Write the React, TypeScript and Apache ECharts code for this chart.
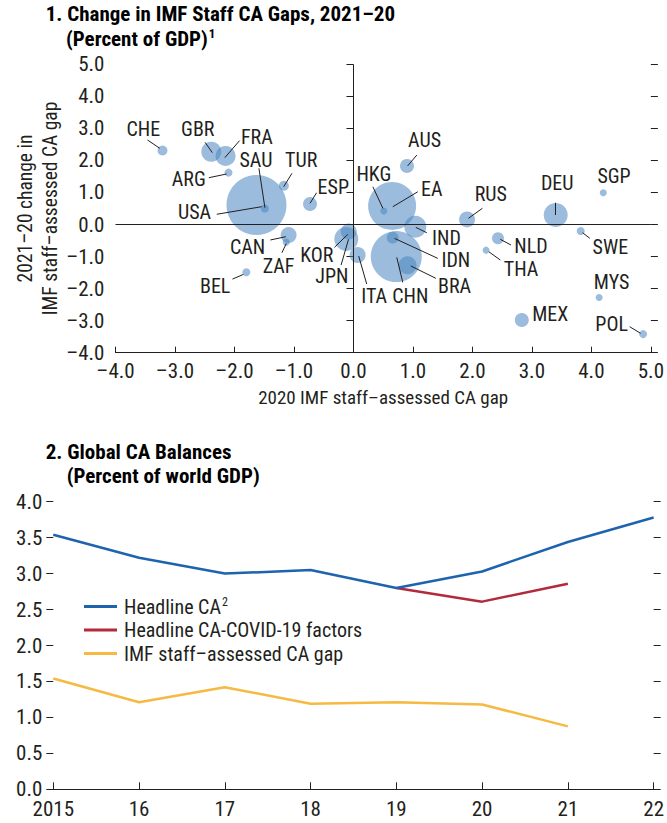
import React, { useEffect, useRef } from "react";
import * as echarts from "echarts";

// ---------- Panel 1 data ----------
const countries = ["CHE","GBR","FRA","ARG","TUR","USA","SAU","ESP","CAN","ZAF","BEL","KOR","JPN","ITA","HKG","EA","AUS","IND","IDN","CHN","BRA","RUS","DEU","SGP","NLD","THA","SWE","MYS","MEX","POL"];
const gap2020 = [-3.21,-2.39,-2.15,-2.10,-1.17,-1.63,-1.49,-0.73,-1.09,-1.13,-1.80,-0.08,-0.12,0.07,0.51,0.65,0.90,1.04,0.66,0.72,0.91,1.91,3.40,4.20,2.43,2.23,3.82,4.13,2.83,4.87];
const gapChange = [2.31,2.27,2.14,1.62,1.21,0.61,0.50,0.64,-0.33,-0.55,-1.49,-0.22,-0.45,-0.95,0.42,0.58,1.83,-0.07,-0.41,-1.00,-1.27,0.16,0.30,0.99,-0.43,-0.80,-0.20,-2.28,-2.98,-3.42];
const bubbleWeight = [5,10,10,4,5,30,4,7,8,3.5,4,8,12,8,3.5,24,7,11,6,25.5,9,8,12,3.5,6,3.5,4,3.5,7,4];
const panel1Ticks = [-4, -3, -2, -1, 0, 1, 2, 3, 4, 5];

// ---------- Panel 2 data ----------
const years = ["2015","16","17","18","19","20","21","22"];
const headlineCA = [3.54,3.22,3.00,3.05,2.80,3.03,3.44,3.78];
const headlineExCovid = [null,null,null,null,2.80,2.61,2.86,null];
const staffGap = [1.54,1.21,1.42,1.19,1.21,1.18,0.875,null];
const seriesNames = ["Headline CA", "Headline CA-COVID-19 factors", "IMF staff–assessed CA gap"];

// label placement (pixel offsets from bubble centre): text centre, leader line start/end
const labelLayout: Record<string, { t: number[]; l?: number[] }> = {
  CHE: { t: [-19.2, -21.5], l: [-15, -10.5, -2.7, -2.2] },
  GBR: { t: [-13.5, -22.8], l: [-6.2, -9.5, 1.1, 0.9] },
  FRA: { t: [31.3, -19], l: [14, -15.3, -0.7, 1.7] },
  ARG: { t: [-39.7, 6.4], l: [-19.7, 5.1, -2, 1.4] },
  TUR: { t: [17.3, -25.7], l: [8.1, -12.4, -0.2, 1] },
  USA: { t: [-62, 7], l: [-39.7, 9.3, 5.3, 1.7] },
  SAU: { t: [-8.9, -48.5], l: [-5.9, -40.2, 0.1, -0.8] },
  ESP: { t: [23.3, -17], l: [6.6, -11.3, 0, -0.7] },
  CAN: { t: [-41, 12.4], l: [-18.3, 4.9, -2.7, 1.6] },
  ZAF: { t: [-7.6, 23.9], l: [-4.3, 10.6, 0.1, 1.2] },
  BEL: { t: [-31.2, 13.8], l: [-13.9, 6.8, -2.9, 2.1] },
  KOR: { t: [-31.9, 23], l: [-14.2, 15.8, -0.9, 2.8] },
  JPN: { t: [-14.5, 37.1], l: [-5.2, 26.1, 2.2, 0.4] },
  ITA: { t: [16.6, 41.1], l: [9.1, 29.1, 1.1, 1.1] },
  HKG: { t: [-9.9, -37], l: [-10.9, -24.3, -0.9, -2.7] },
  EA: { t: [39.7, -17.4], l: [25.7, -14.2, 0.7, 0.8] },
  AUS: { t: [17.6, -25.4], l: [9.9, -10.9, 0.6, 0.1] },
  IND: { t: [31.2, 11.3], l: [11.5, 6, 0.5, 0.6] },
  IDN: { t: [63.1, 22.4], l: [45.1, 20.7, 1.8, 0.7] },
  CHN: { t: [14, 39.5], l: [6.5, 25.8, 0.5, 0.8] },
  BRA: { t: [47, 20.8], l: [28.3, 13.1, 3.3, 0.8] },
  RUS: { t: [23.7, -25.4], l: [15.4, -11.1, 1.4, -1.1] },
  DEU: { t: [1.5, -32.4], l: [-0.2, -12.2, -0.2, 0.1] },
  SGP: { t: [10.8, -16.8] },
  NLD: { t: [33, 7.7], l: [13, 6.7, 2.3, 1] },
  THA: { t: [35, 18.9], l: [14.3, 9.9, 2.7, 1.6] },
  SWE: { t: [29.7, 15.8], l: [9.2, 7.4, 1.9, 1.8] },
  MYS: { t: [12.5, -15.1] },
  MEX: { t: [28.4, -6] },
  POL: { t: [-31.5, -10.1], l: [-13.5, -7.4, -2.5, -0.8] },
};

const FONT = '"Roboto Condensed", Roboto, sans-serif';
const INK = "#231f20";
const FS = 21;
const LFS = 20;

const fmt = (v: number) => (v < 0 ? "–" + Math.abs(v).toFixed(1) : v.toFixed(1));

export default function App() {
  const ref = useRef<HTMLDivElement>(null);
  useEffect(() => {
    if (!ref.current) return;
    const chart = echarts.init(ref.current, null, { renderer: "svg" });
    const labelFont = `${LFS}px ${FONT}`;
    const titleRich = {
      t: { fontFamily: FONT, fontWeight: "bold", fontSize: 21, color: INK, lineHeight: 24 },
      s: { fontFamily: FONT, fontWeight: "bold", fontSize: 13, color: INK, lineHeight: 24, verticalAlign: "top", padding: [0, 0, 0, 1] },
    };
    const option: any = {
      animation: false,
      backgroundColor: "#ffffff",
      textStyle: { fontFamily: FONT, color: INK },
      grid: [
        { left: 115.5, top: 64.3, width: 540, height: 288.4 },
        { left: 53.3, top: 501.7, width: 605, height: 287.6 },
      ],
      xAxis: [
        {
          gridIndex: 0, type: "value", min: panel1Ticks[0], max: panel1Ticks[panel1Ticks.length - 1], interval: 1,
          axisLine: { show: true, onZero: false, lineStyle: { color: INK, width: 1 } },
          axisTick: { show: true, inside: true, length: 6, lineStyle: { color: INK } },
          axisLabel: { formatter: fmt, fontSize: FS, color: INK, fontFamily: FONT, margin: 8 },
          splitLine: { show: false },
          name: "2020 IMF staff–assessed CA gap", nameLocation: "middle", nameGap: 35,
          nameTextStyle: { fontSize: 19, color: INK, fontFamily: FONT },
        },
        {
          gridIndex: 1, type: "category", data: years, boundaryGap: false,
          axisLine: { show: true, onZero: false, lineStyle: { color: INK, width: 1 } },
          axisTick: { show: true, inside: true, length: 7, lineStyle: { color: INK } },
          axisLabel: { fontSize: FS, color: INK, fontFamily: FONT, margin: 9, interval: 0 },
          splitLine: { show: false },
        },
      ],
      yAxis: [
        {
          gridIndex: 0, type: "value", min: -4, max: 5, interval: 1,
          axisLine: { show: false },
          axisTick: { show: true, inside: false, length: 7, lineStyle: { color: INK } },
          axisLabel: { formatter: fmt, fontSize: FS, color: INK, fontFamily: FONT, margin: 11 },
          splitLine: { show: false },
        },
        {
          gridIndex: 0, type: "value", min: -4, max: 5, interval: 1, position: "right",
          axisLine: { show: false },
          axisTick: { show: true, inside: false, length: 7, lineStyle: { color: INK } },
          axisLabel: { show: false },
          splitLine: { show: false },
        },
        {
          gridIndex: 1, type: "value", min: 0, max: 4, interval: 0.5,
          axisLine: { show: false },
          axisTick: { show: true, inside: false, length: 7, lineStyle: { color: INK } },
          axisLabel: { formatter: fmt, fontSize: FS, color: INK, fontFamily: FONT, margin: 11 },
          splitLine: { show: false },
        },
        {
          gridIndex: 1, type: "value", min: 0, max: 4, interval: 0.5, position: "right",
          axisLine: { show: false },
          axisTick: { show: true, inside: false, length: 7, lineStyle: { color: INK } },
          axisLabel: { show: false },
          splitLine: { show: false },
        },
      ],
      legend: {
        orient: "vertical", left: 79, top: 591, itemWidth: 33, itemHeight: 3, itemGap: 3.5,
        icon: "rect",
        formatter: (name: string) => (name === seriesNames[0] ? `{n|${name}}{s|2}` : `{n|${name}}`),
        textStyle: {
          color: INK, fontFamily: FONT, fontSize: LFS, padding: [0, 0, 0, 2],
          rich: {
            n: { fontSize: LFS, fontFamily: FONT, color: INK, lineHeight: 21 },
            s: { fontSize: 12, fontFamily: FONT, color: INK, lineHeight: 21, verticalAlign: "top", padding: [0, 0, 0, 1] },
          },
        },
        data: seriesNames,
      },
      graphic: [
        { type: "text", left: 45.7, top: 3, style: { text: "{t|1. Change in IMF Staff CA Gaps, 2021–20}", rich: titleRich } },
        { type: "text", left: 66, top: 27, style: { text: "{t|(Percent of GDP)}{s|1}", rich: titleRich } },
        { type: "text", left: 45.7, top: 441, style: { text: "{t|2. Global CA Balances}", rich: titleRich } },
        { type: "text", left: 66.7, top: 465, style: { text: "{t|(Percent of world GDP)}", rich: titleRich } },
        {
          type: "text", x: 25.7, y: 208.5, rotation: Math.PI / 2,
          style: { text: "2021–20 change in", align: "center", verticalAlign: "middle", font: `19.5px ${FONT}`, fill: INK },
        },
        {
          type: "text", x: 50.5, y: 208.5, rotation: Math.PI / 2,
          style: { text: "IMF staff–assessed CA gap", align: "center", verticalAlign: "middle", font: `19.5px ${FONT}`, fill: INK },
        },
      ],
      series: [
        {
          type: "scatter", xAxisIndex: 0, yAxisIndex: 0,
          data: countries.map((c, i) => ({ name: c, value: [gap2020[i], gapChange[i], bubbleWeight[i]] })),
          symbolSize: (v: number[]) => v[2] * 2,
          itemStyle: { color: "rgb(73,133,191)", opacity: 0.55 },
          silent: true,
          markLine: {
            silent: true, symbol: "none", label: { show: false },
            lineStyle: { color: INK, width: 1, type: "solid" },
            data: [{ xAxis: 0 }, { yAxis: 0 }],
          },
        },
        {
          type: "custom", xAxisIndex: 0, yAxisIndex: 0, silent: true, clip: false, z: 5,
          data: countries.map((c, i) => [gap2020[i], gapChange[i]]),
          renderItem: (params: any, api: any) => {
            const name = countries[params.dataIndex];
            const p = api.coord([api.value(0), api.value(1)]);
            const L = labelLayout[name];
            const children: any[] = [
              { type: "text", style: { text: name, x: p[0] + L.t[0], y: p[1] + L.t[1], align: "center", verticalAlign: "middle", font: labelFont, fill: INK } },
            ];
            if (L.l) {
              children.push({ type: "line", shape: { x1: p[0] + L.l[0], y1: p[1] + L.l[1], x2: p[0] + L.l[2], y2: p[1] + L.l[3] }, style: { stroke: INK, lineWidth: 1 } });
            }
            return { type: "group", children };
          },
        },
        {
          name: seriesNames[1], type: "line", xAxisIndex: 1, yAxisIndex: 2,
          data: headlineExCovid, showSymbol: false, color: "#b22a3c",
          lineStyle: { width: 2.5, color: "#b22a3c" },
        },
        {
          name: seriesNames[2], type: "line", xAxisIndex: 1, yAxisIndex: 2,
          data: staffGap, showSymbol: false, color: "#f6b942",
          lineStyle: { width: 2.5, color: "#f6b942" },
        },
        {
          name: seriesNames[0], type: "line", xAxisIndex: 1, yAxisIndex: 2,
          data: headlineCA, showSymbol: false, color: "#1d63ad",
          lineStyle: { width: 2.5, color: "#1d63ad" },
        },
      ],
    };
    chart.setOption(option);
    return () => chart.dispose();
  }, []);
  return (
    <div
      ref={ref}
      style={{ position: "fixed", left: 0, top: 0, width: 667, height: 823, background: "#fff" }}
    />
  );
}
